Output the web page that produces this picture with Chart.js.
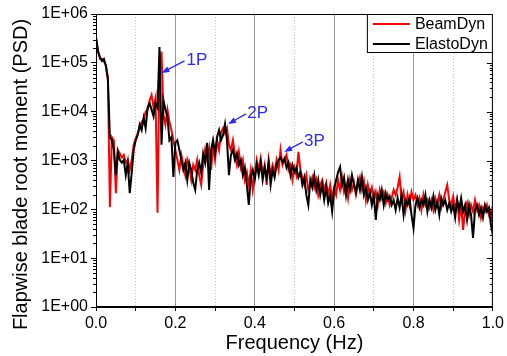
<!DOCTYPE html>
<html><head><meta charset="utf-8">
<script src="https://cdn.jsdelivr.net/npm/chart.js@4.4.1/dist/chart.umd.min.js"></script>
<style>html,body{margin:0;padding:0;background:#fff;}#wrap{width:507px;height:356px;}</style>
</head><body><div id="wrap"><canvas id="c" width="507" height="356"></canvas></div>
<script>
const freq = [0,0.005,0.01,0.015,0.02,0.025,0.03,0.035,0.04,0.045,
0.05,0.055,0.06,0.065,0.07,0.075,0.08,0.085,0.09,0.095,
0.1,0.105,0.11,0.115,0.12,0.125,0.13,0.135,0.14,0.145,
0.15,0.155,0.16,0.165,0.17,0.175,0.18,0.185,0.19,0.195,
0.2,0.205,0.21,0.215,0.22,0.225,0.23,0.235,0.24,0.245,
0.25,0.255,0.26,0.265,0.27,0.275,0.28,0.285,0.29,0.295,
0.3,0.305,0.31,0.315,0.32,0.325,0.33,0.335,0.34,0.345,
0.35,0.355,0.36,0.365,0.37,0.375,0.38,0.385,0.39,0.395,
0.4,0.405,0.41,0.415,0.42,0.425,0.43,0.435,0.44,0.445,
0.45,0.455,0.46,0.465,0.47,0.475,0.48,0.485,0.49,0.495,
0.5,0.505,0.51,0.515,0.52,0.525,0.53,0.535,0.54,0.545,
0.55,0.555,0.56,0.565,0.57,0.575,0.58,0.585,0.59,0.595,
0.6,0.605,0.61,0.615,0.62,0.625,0.63,0.635,0.64,0.645,
0.65,0.655,0.66,0.665,0.67,0.675,0.68,0.685,0.69,0.695,
0.7,0.705,0.71,0.715,0.72,0.725,0.73,0.735,0.74,0.745,
0.75,0.755,0.76,0.765,0.77,0.775,0.78,0.785,0.79,0.795,
0.8,0.805,0.81,0.815,0.82,0.825,0.83,0.835,0.84,0.845,
0.85,0.855,0.86,0.865,0.87,0.875,0.88,0.885,0.89,0.895,
0.9,0.905,0.91,0.915,0.92,0.925,0.93,0.935,0.94,0.945,
0.95,0.955,0.96,0.965,0.97,0.975,0.98,0.985,0.99,0.995,1.0];

const beamDyn = [320000,180000,120000,120000,105000,90000,50000,110,3000,2600,
215,1650,1400,1150,1300,900,1030,640,1030,2100,
2800,3600,4600,6200,6800,10000,11000,17000,22000,12000,
19000,85,72000,170000,8600,5400,11000,6200,4200,2600,
1650,1030,640,1300,810,500,1030,720,400,810,
640,1030,500,316,810,1650,1030,1800,640,2100,
1030,2600,1650,3800,4600,3600,4600,2100,1650,2600,
1300,810,1500,720,1030,400,580,316,640,250,
500,1030,640,1100,500,810,316,1030,500,810,
580,1030,640,1650,810,1030,1300,640,810,400,
720,500,1500,640,450,316,500,250,316,450,
280,400,197,316,400,250,350,197,316,170,
280,197,400,250,450,225,316,170,400,250,
350,197,316,450,250,380,155,316,197,280,
155,225,123,250,170,225,135,197,123,170,
250,197,280,460,155,225,97,197,123,225,
155,197,123,170,97,197,123,155,108,155,
97,170,123,197,108,155,225,316,155,123,
185,97,155,61,123,38,97,135,77,123,
90,155,97,123,68,108,90,123,77,97,48];

const elastoDyn = [340000,170000,130000,110000,120000,85000,45000,3000,2600,1650,
500,1500,1030,900,1030,500,900,215,560,1650,
2600,3300,5400,4200,7500,4600,12000,15000,11000,8000,
15000,12000,210000,2100,17000,11000,8000,2600,3000,460,
2300,2600,1650,1030,640,900,400,900,640,350,
250,640,900,560,1400,900,2300,250,1650,2600,
1400,3000,4200,2600,3300,5600,2600,500,1300,1650,
1030,1400,810,1030,500,720,316,123,450,640,
400,810,500,920,400,720,450,900,316,640,
450,810,1030,1150,920,1100,720,920,500,810,
580,720,450,580,316,450,197,123,400,280,
500,250,400,197,316,155,280,135,197,90,
250,400,580,740,316,450,197,400,250,500,
316,225,400,250,460,197,280,155,225,123,
197,61,197,155,250,123,215,155,185,123,
155,97,170,108,197,77,155,123,170,77,
41,123,170,108,155,123,197,90,155,108,
185,97,140,77,170,123,155,97,135,90,
123,68,155,97,170,90,123,61,123,77,
26,97,123,77,108,68,123,90,108,48,30];

const seriesNames = ['BeamDyn','ElastoDyn'];
const seriesColors = ['#ff0000','#000000'];
const xTickValues = [0,0.1,0.2,0.3,0.4,0.5,0.6,0.7,0.8,0.9,1.0];
const xTickLabels = ['0.0','','0.2','','0.4','','0.6','','0.8','','1.0'];
const yTickValues = [1,10,100,1000,10000,100000,1000000];
const yTickLabels = ['1E+00','1E+01','1E+02','1E+03','1E+04','1E+05','1E+06'];
const yTitle = 'Flapwise blade root moment (PSD)';
const notes = [
  {text:'1P', tip:[0.165,62000], from:[0.223,110000], at:[0.228,115000]},
  {text:'2P', tip:[0.333,5600], from:[0.378,9000], at:[0.381,9400]},
  {text:'3P', tip:[0.474,1500], from:[0.521,2400], at:[0.524,2500]}
];

const FONT = '"Liberation Sans", Arial, sans-serif';
const pts = arr => freq.map((f,i)=>({x:f,y:arr[i]}));
const isMajorX = v => Math.abs(Math.round(v*10)%2)===0;

const decorPlugin = {
  id:'decor',
  afterDatasetsDraw(chart){
    const {ctx, chartArea:a, scales:{x,y}} = chart;
    ctx.save();
    ctx.strokeStyle='#000'; ctx.lineWidth=1;
    ctx.strokeRect(a.left+0.5,a.top+0.5,a.right-a.left-1,a.bottom-a.top-1);
    ctx.beginPath();
    for(let d=0; d<6; d++){
      for(let k=2;k<=9;k++){
        const py=Math.round(y.getPixelForValue(k*Math.pow(10,d)))+0.5;
        ctx.moveTo(a.left-3,py); ctx.lineTo(a.left,py);
        ctx.moveTo(a.right-3,py); ctx.lineTo(a.right,py);
      }
    }
    yTickValues.forEach(v=>{
      const py=Math.round(y.getPixelForValue(v))+0.5;
      ctx.moveTo(a.right-6,py); ctx.lineTo(a.right,py);
    });
    ctx.stroke();
    ctx.restore();
  },
  afterDraw(chart){
    const {ctx, chartArea:a, scales:{x,y}} = chart;
    ctx.save();
    // y-axis title
    ctx.save();
    ctx.translate(21,(a.top+a.bottom)/2+14);
    ctx.rotate(-Math.PI/2);
    ctx.font='20px '+FONT; ctx.fillStyle='#000'; ctx.textAlign='center'; ctx.textBaseline='middle';
    ctx.fillText(yTitle,0,0);
    ctx.restore();
    // legend
    const bw=126,bh=39,bx=a.right-bw,by=a.top;
    ctx.fillStyle='#fff'; ctx.fillRect(bx,by,bw,bh);
    ctx.strokeStyle='#000'; ctx.lineWidth=1;
    ctx.strokeRect(bx+0.5,by+0.5,bw-1,bh-1);
    ctx.font='16px '+FONT; ctx.textBaseline='middle'; ctx.textAlign='left';
    chart.data.datasets.forEach((ds,i)=>{
      const ly=by+10+i*20;
      ctx.strokeStyle=ds.borderColor; ctx.lineWidth=2;
      ctx.beginPath(); ctx.moveTo(bx+6,ly); ctx.lineTo(bx+43,ly); ctx.stroke();
      ctx.fillStyle='#000'; ctx.fillText(ds.label,bx+48,ly+1);
    });
    // annotations
    const blue='#2a2aff';
    notes.forEach(n=>{
      const tx=x.getPixelForValue(n.tip[0]), ty=y.getPixelForValue(n.tip[1]);
      const fx=x.getPixelForValue(n.from[0]), fy=y.getPixelForValue(n.from[1]);
      const ax=x.getPixelForValue(n.at[0]), ay=y.getPixelForValue(n.at[1]);
      const ang=Math.atan2(ty-fy,tx-fx);
      ctx.strokeStyle=blue; ctx.fillStyle=blue; ctx.lineWidth=1.3;
      ctx.beginPath(); ctx.moveTo(fx,fy);
      ctx.lineTo(tx-6*Math.cos(ang),ty-6*Math.sin(ang)); ctx.stroke();
      ctx.beginPath(); ctx.moveTo(tx,ty);
      ctx.lineTo(tx-8*Math.cos(ang)+3*Math.sin(ang), ty-8*Math.sin(ang)-3*Math.cos(ang));
      ctx.lineTo(tx-8*Math.cos(ang)-3*Math.sin(ang), ty-8*Math.sin(ang)+3*Math.cos(ang));
      ctx.closePath(); ctx.fill();
      ctx.font='17px '+FONT; ctx.textAlign='left'; ctx.textBaseline='middle';
      ctx.fillText(n.text,ax,ay);
    });
    ctx.restore();
  }
};

new Chart(document.getElementById('c'),{
  type:'line',
  data:{datasets:[
    {label:seriesNames[0],data:pts(beamDyn),borderColor:seriesColors[0],borderWidth:2,pointRadius:0,tension:0,order:2},
    {label:seriesNames[1],data:pts(elastoDyn),borderColor:seriesColors[1],borderWidth:2,pointRadius:0,tension:0,order:1}
  ]},
  options:{
    responsive:false, animation:false, devicePixelRatio:1,
    layout:{padding:{left:0,right:12,top:14,bottom:0}},
    plugins:{legend:{display:false},tooltip:{enabled:false}},
    scales:{
      x:{type:'linear',min:0,max:1,
        afterBuildTicks:s=>{s.ticks=xTickValues.map(v=>({value:v}));},
        afterFit:s=>{s.height=49;},
        ticks:{autoSkip:false,maxRotation:0,padding:3,color:'#000',font:{family:FONT,size:16},
          callback:(v,i)=>xTickLabels[i]},
        grid:{color:c=>(c.tick&&isMajorX(c.tick.value))?'#9a9a9a':'#c4c4c4',lineWidth:1,
          drawTicks:true,tickLength:4,tickColor:'#000'},
        border:{display:true,color:'#000',width:1,dash:c=>(c.tick&&!isMajorX(c.tick.value))?[1,2]:[]},
        title:{display:true,text:'Frequency (Hz)',color:'#000',font:{family:FONT,size:20},padding:{top:0,bottom:1}}
      },
      y:{type:'logarithmic',min:1,max:1000000,
        afterBuildTicks:s=>{s.ticks=yTickValues.map(v=>({value:v}));},
        afterFit:s=>{s.width=96;},
        ticks:{autoSkip:false,padding:3,color:'#000',font:{family:FONT,size:16},
          callback:(v,i)=>yTickLabels[i]},
        grid:{drawOnChartArea:false,drawTicks:true,tickLength:5,tickColor:'#000'},
        border:{display:true,color:'#000',width:1},
        title:{display:false}
      }
    }
  },
  plugins:[decorPlugin]
});
</script></body></html>
